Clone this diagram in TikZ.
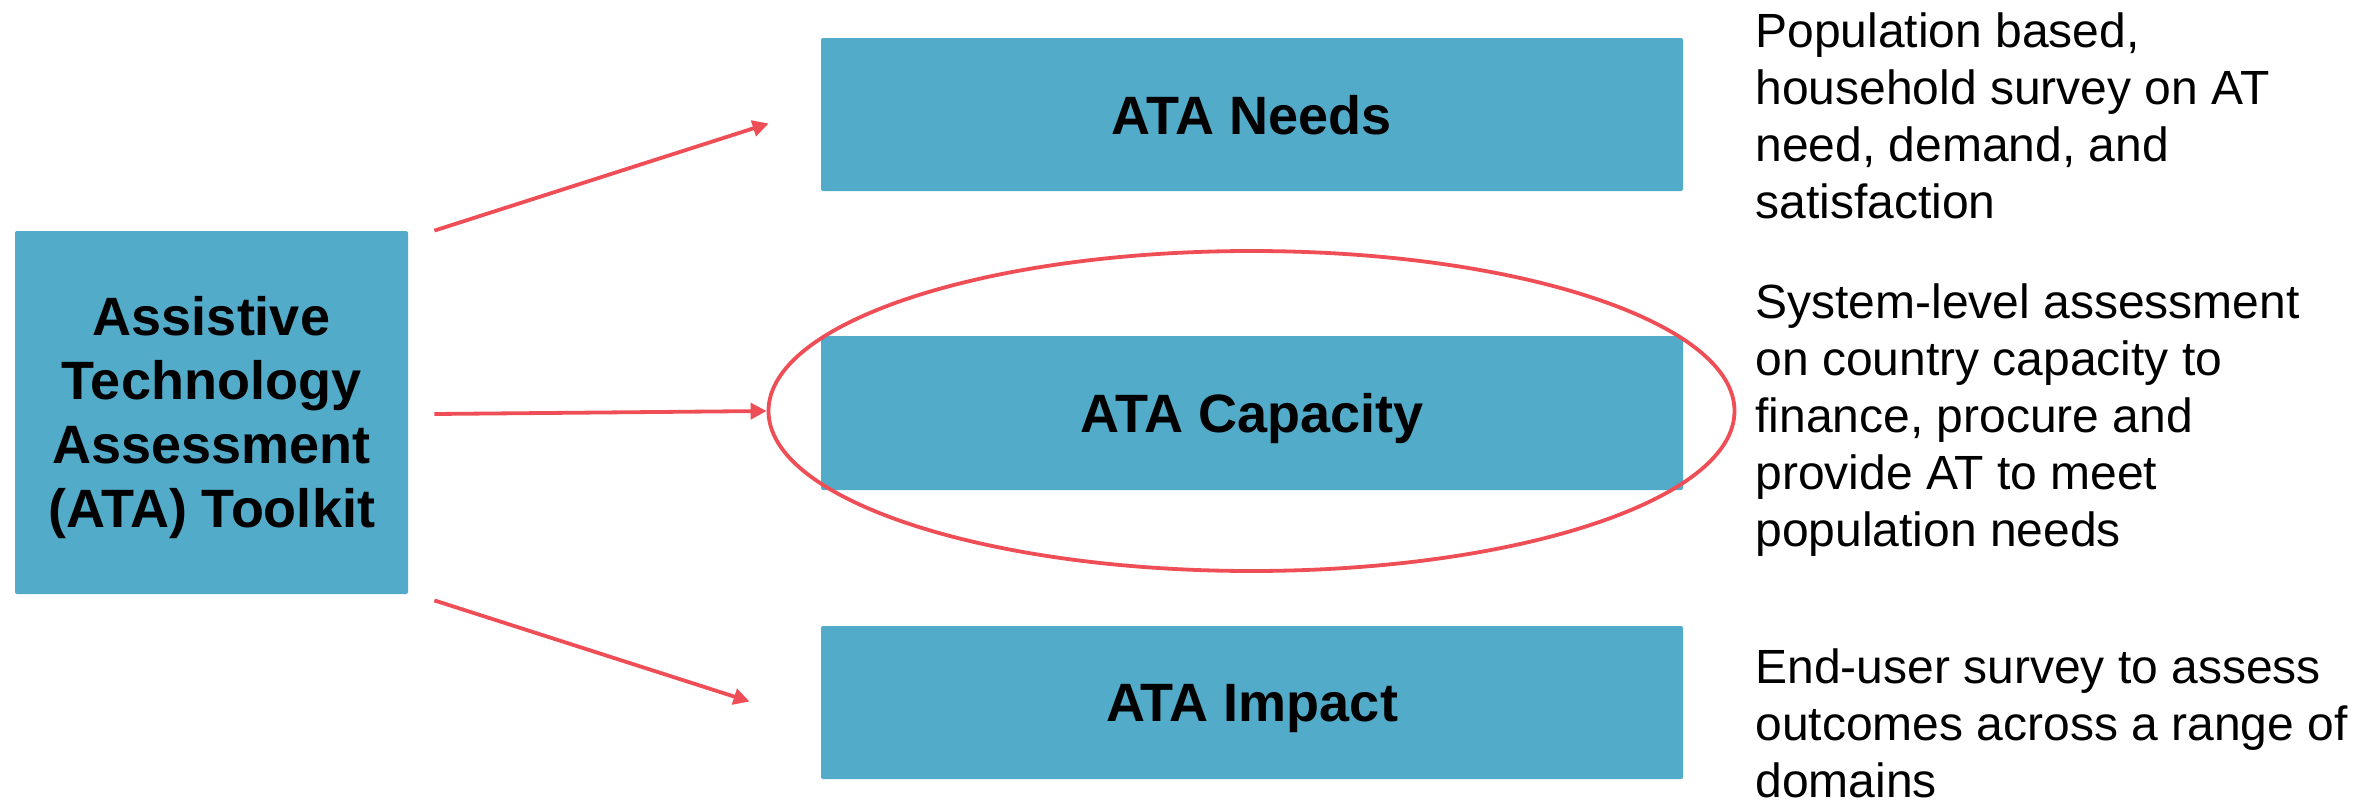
\documentclass[tikz,border=0pt]{standalone}
\usepackage{fontspec}
\setmainfont{Liberation Sans}
\usetikzlibrary{arrows.meta,shapes.geometric,calc}
\definecolor{boxblue}{RGB}{82,171,201}
\definecolor{linered}{RGB}{239,78,86}
\begin{document}
\begin{tikzpicture}[x=0.5pt,y=-0.5pt,
  bluebox/.style={fill=boxblue,draw=none,rounded corners=1pt,inner sep=0pt},
  atabox/.style={bluebox,minimum width=431pt,minimum height=76.5pt,
    font=\fontsize{27pt}{32pt}\selectfont\bfseries,text depth=0pt},
  desc/.style={anchor=base west,inner sep=0pt,font=\fontsize{24pt}{28.5pt}\selectfont},
  redarrow/.style={draw=linered,line width=1.9pt,-{Triangle[length=8pt,width=8pt]}},
  ring/.style={draw=linered,line width=1.9pt,ellipse,fill=none,minimum width=483pt,minimum height=160pt,inner sep=0pt}
]
\useasboundingbox (0,0) rectangle (2371,803);

% left box
\node[bluebox,minimum width=196.5pt,minimum height=181.5pt,
  font=\fontsize{27pt}{32pt}\selectfont\bfseries,
  text height=19.3pt,text depth=96pt] (tool) at (211.5,412.5)
  {\vtop{\baselineskip=32pt
    \hbox to 0pt{\hss Assistive\hss}
    \hbox to 0pt{\hss Technology\hss}
    \hbox to 0pt{\hss Assessment\hss}
    \hbox to 0pt{\hss (ATA) Toolkit\hss}}};

% right boxes
\node[atabox] (needs) at (1252,114.5) {ATA Needs};
\node[atabox,minimum height=77pt] (cap) at (1252,413) {ATA Capacity};
\node[atabox] (impact) at (1252,702.5) {ATA Impact};

% ellipse around capacity
\node[ring] (ring) at (1251.5,411) {};

% descriptions
\node[desc] (d1) at (1755,47) {\vtop{\baselineskip=28.5pt
  \hbox{Population based,}
  \hbox{household survey on AT}
  \hbox{need, demand, and}
  \hbox{satisfaction}}};
\node[desc] (d2) at (1755,318) {\vtop{\baselineskip=28.5pt
  \hbox{System-level assessment}
  \hbox{on country capacity to}
  \hbox{finance, procure and}
  \hbox{provide AT to meet}
  \hbox{population needs}}};
\node[desc] (d3) at (1755,683) {\vtop{\baselineskip=28.5pt
  \hbox{End-user survey to assess}
  \hbox{outcomes across a range of}
  \hbox{domains}}};

% connectors
\coordinate (s1) at ($(tool.north east)+(26,0)$);
\coordinate (s2) at ($(tool.east)+(26,1.5)$);
\coordinate (s3) at ($(tool.south east)+(26,6)$);
\coordinate (e1) at ($(needs.west)+(-52,9)$);
\coordinate (e3) at ($(impact.west)+(-71,-1)$);
\draw[redarrow] (s1) -- (e1);
\draw[redarrow] (s2) -- (ring.west);
\draw[redarrow] (s3) -- (e3);
\end{tikzpicture}
\end{document}
